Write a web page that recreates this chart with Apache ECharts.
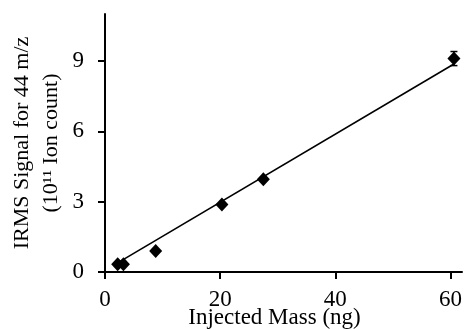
<!DOCTYPE html>
<html>
<head>
<meta charset="utf-8">
<script src="https://cdn.jsdelivr.net/npm/echarts@6/dist/echarts.min.js"></script>
<style>
  html, body { margin: 0; padding: 0; background: #fff; }
  #chart { width: 464px; height: 330px; }
</style>
</head>
<body>
<div id="chart"></div>
<script>
// Calibration: injected CO2 mass vs. IRMS signal at m/z 44
const massNg = [2.2, 3.2, 8.8, 20.3, 27.5, 60.6];
const signal = [0.33, 0.33, 0.90, 2.88, 3.95, 9.10];
const signalErr = [0.05, 0.05, 0.05, 0.08, 0.08, 0.30];

// Least-squares fit line end points
const fitX = [2.2, 60.6];
const fitY = [0.39, 8.87];

const xTicks = [0, 20, 40, 60];
const yTicks = [0, 3, 6, 9];

const FONT = '"Liberation Serif", "Times New Roman", serif';

const points = massNg.map((x, i) => [x, signal[i]]);
const errData = massNg.map((x, i) => [x, signal[i] - signalErr[i], signal[i] + signalErr[i]]);
const fitData = fitX.map((x, i) => [x, fitY[i]]);

const chart = echarts.init(document.getElementById('chart'), null, { renderer: 'canvas' });

const axisCommon = {
  axisLine: { show: true, lineStyle: { color: '#000', width: 2 } },
  axisTick: { show: true, inside: false, length: 7, lineStyle: { color: '#000', width: 2 } },
  splitLine: { show: false },
};

chart.setOption({
  animation: false,
  backgroundColor: '#fff',
  grid: { left: 105, right: 2, top: 14, bottom: 58, containLabel: false, outerBoundsMode: 'none' },
  xAxis: Object.assign({}, axisCommon, {
    type: 'value',
    min: 0,
    max: 62,
    interval: 20,
    axisTick: Object.assign({}, axisCommon.axisTick, { customValues: xTicks }),
    axisLabel: {
      customValues: xTicks,
      color: '#000', fontFamily: FONT, fontSize: 23, margin: 16
    },
    name: 'Injected Mass (ng)',
    nameLocation: 'middle',
    nameMoveOverlap: false,
    nameGap: 34,
    nameTextStyle: { color: '#000', fontFamily: FONT, fontSize: 23, padding: [0, 18, 0, 0] }
  }),
  yAxis: Object.assign({}, axisCommon, {
    type: 'value',
    min: 0,
    max: 11,
    interval: 3,
    axisTick: Object.assign({}, axisCommon.axisTick, { customValues: yTicks }),
    axisLabel: {
      customValues: yTicks,
      color: '#000', fontFamily: FONT, fontSize: 23, margin: 21
    },
    name: 'IRMS Signal for 44 m/z\n(10\u00B9\u00B9 Ion count)',
    nameLocation: 'middle',
    nameRotate: 90,
    nameMoveOverlap: false,
    nameGap: 39,
    nameTextStyle: { color: '#000', fontFamily: FONT, fontSize: 22, lineHeight: 29, align: 'center' }
  }),
  series: [
    {
      type: 'line',
      data: fitData,
      symbol: 'none',
      lineStyle: { color: '#000', width: 1.6 },
      z: 2
    },
    {
      type: 'custom',
      data: errData,
      z: 3,
      renderItem: function (params, api) {
        const x = api.value(0);
        const lo = api.coord([x, api.value(1)]);
        const hi = api.coord([x, api.value(2)]);
        const cap = 3.5;
        const style = { stroke: '#000', lineWidth: 1.5 };
        return {
          type: 'group',
          children: [
            { type: 'line', shape: { x1: lo[0], y1: lo[1], x2: hi[0], y2: hi[1] }, style: style },
            { type: 'line', shape: { x1: lo[0] - cap, y1: lo[1], x2: lo[0] + cap, y2: lo[1] }, style: style },
            { type: 'line', shape: { x1: hi[0] - cap, y1: hi[1], x2: hi[0] + cap, y2: hi[1] }, style: style }
          ]
        };
      }
    },
    {
      type: 'scatter',
      data: points,
      symbol: 'diamond',
      symbolSize: [13, 14],
      itemStyle: { color: '#000', opacity: 1 },
      z: 4
    }
  ]
});
</script>
</body>
</html>
